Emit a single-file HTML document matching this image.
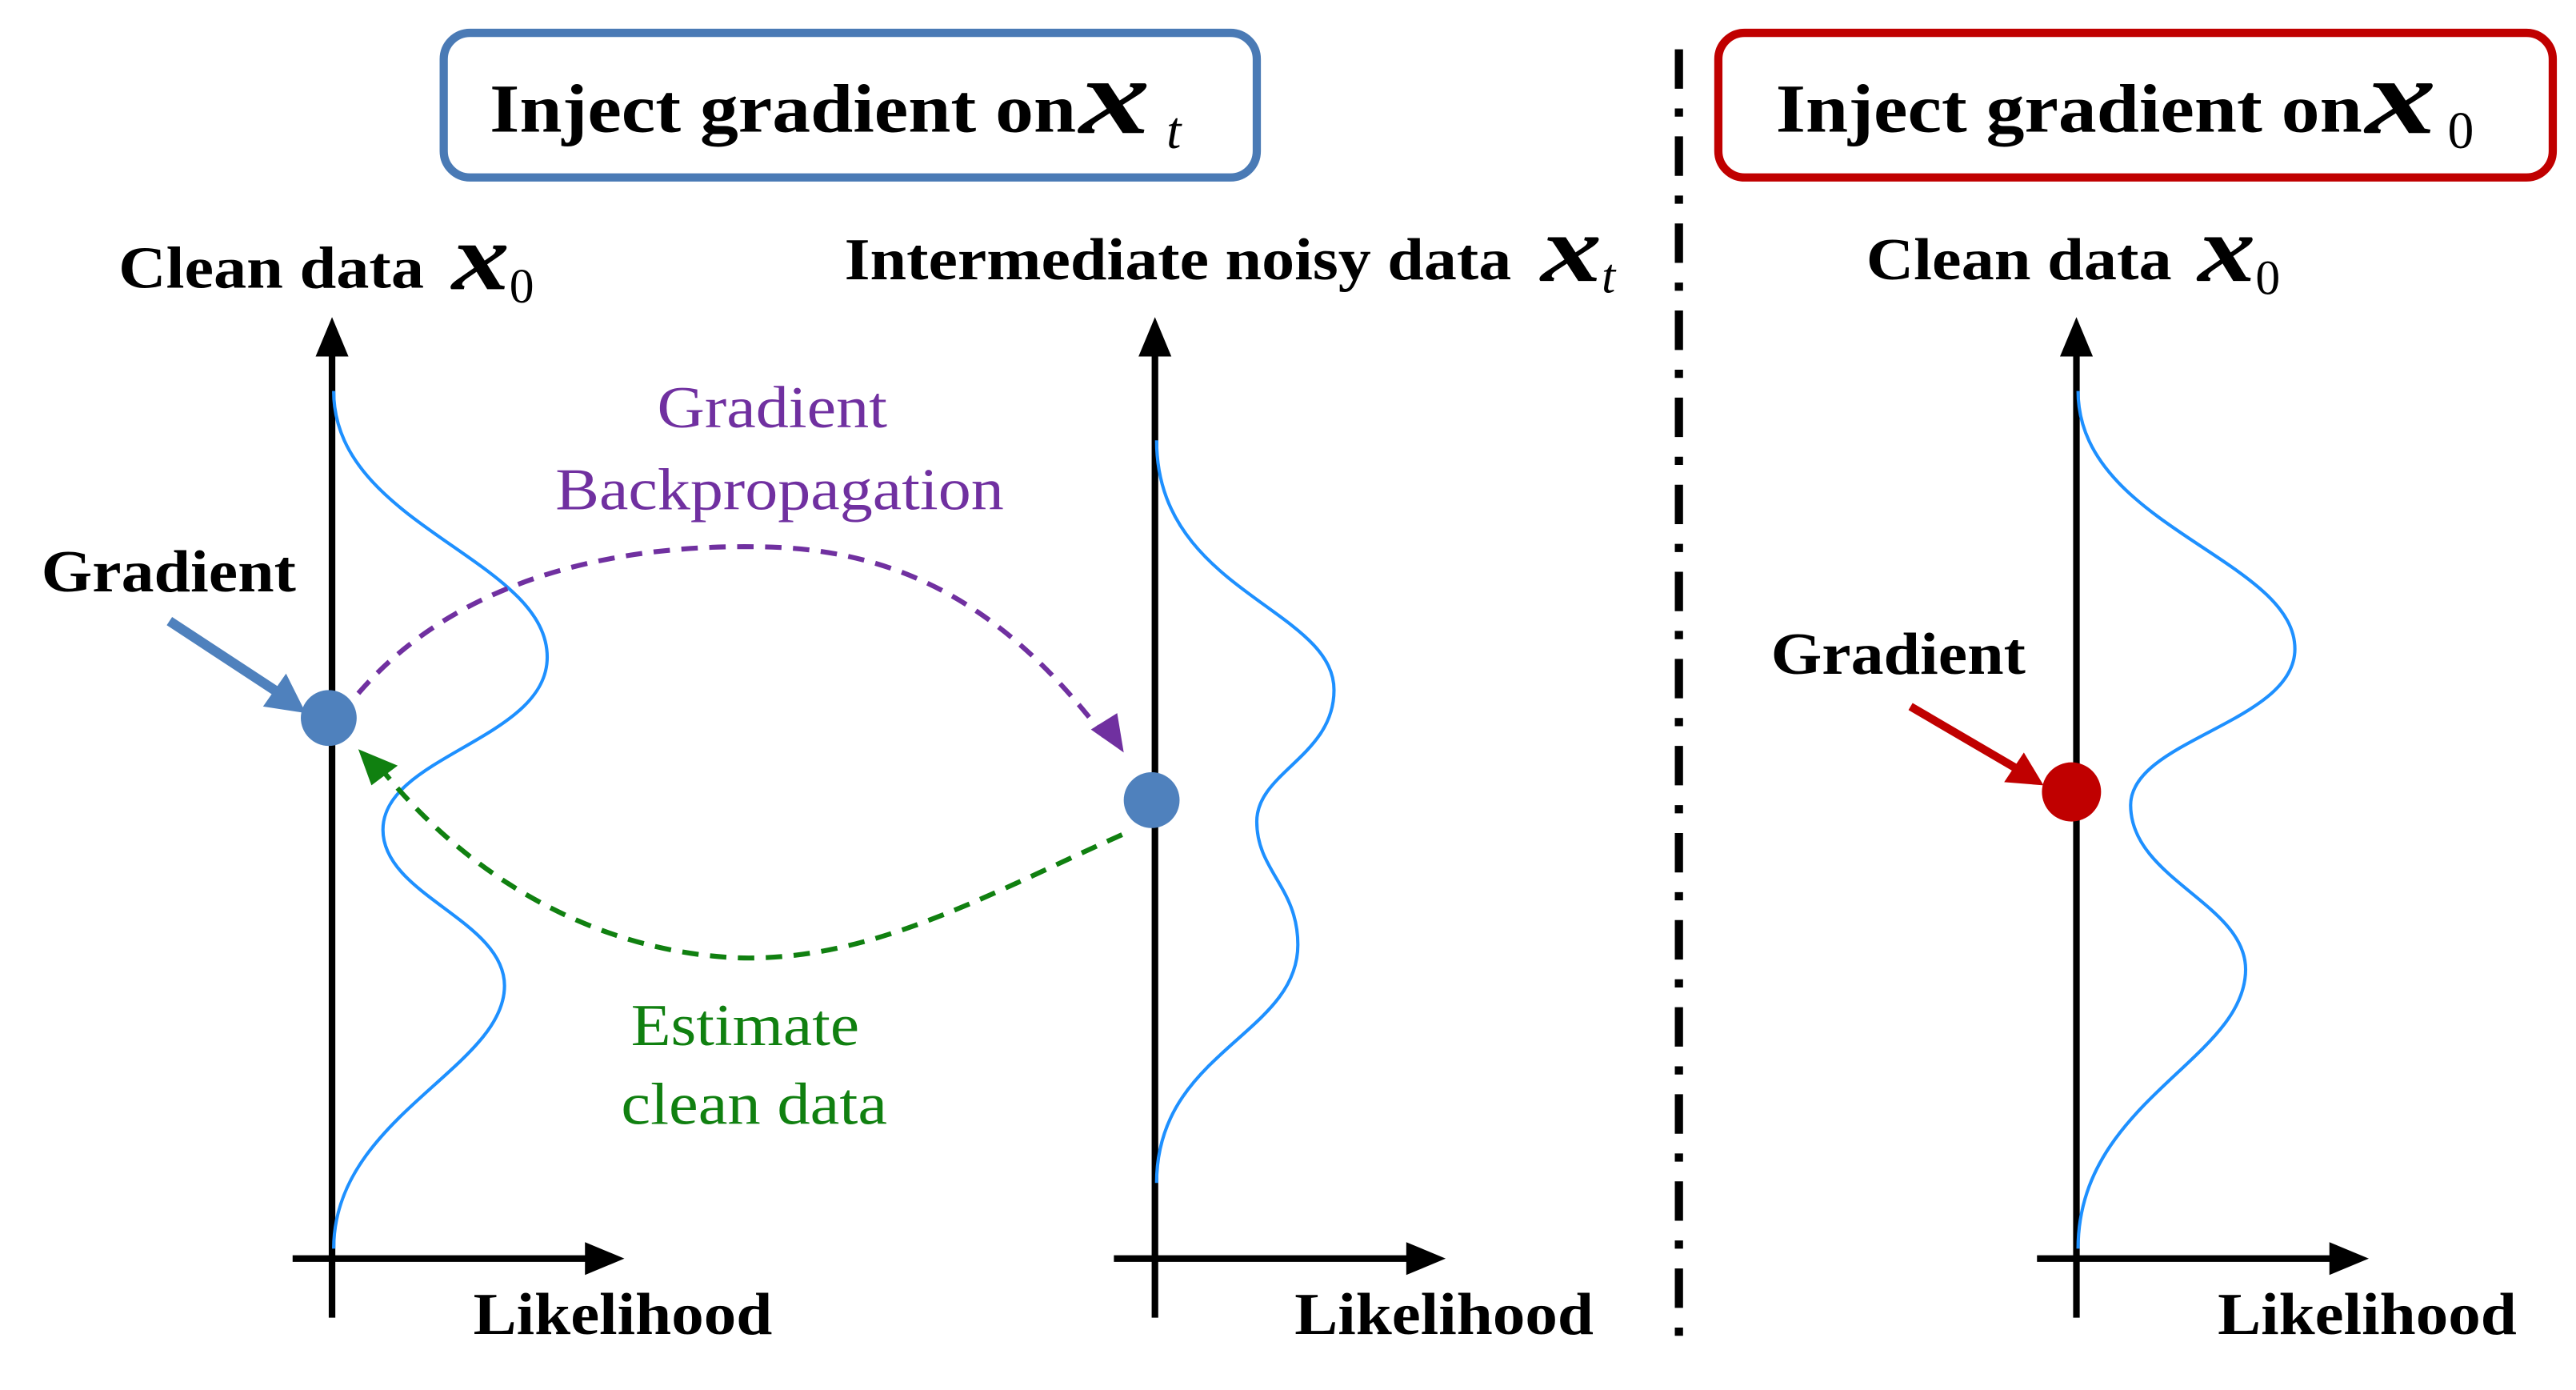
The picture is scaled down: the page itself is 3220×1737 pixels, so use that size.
<!DOCTYPE html>
<html><head><meta charset="utf-8"><style>html,body{margin:0;padding:0;background:#fff}svg{display:block}</style></head>
<body>
<svg width="3220" height="1737" viewBox="0 0 1568 846" xmlns="http://www.w3.org/2000/svg" font-family="Liberation Serif, serif">
<rect x="270" y="20" width="495" height="88" rx="16" fill="#fff" stroke="#4a7ab5" stroke-width="5"/>
<rect x="1046" y="20" width="508" height="88" rx="16" fill="#fff" stroke="#c00000" stroke-width="5"/>
<text x="298" y="80" font-size="42" font-weight="bold" textLength="357" lengthAdjust="spacingAndGlyphs">Inject gradient on</text>
<text x="657" y="81" font-size="66" font-weight="bold" font-style="italic" textLength="43" lengthAdjust="spacingAndGlyphs">x</text>
<text x="710" y="90" font-size="32" font-style="italic">t</text>
<text x="1081" y="80" font-size="42" font-weight="bold" textLength="357" lengthAdjust="spacingAndGlyphs">Inject gradient on</text>
<text x="1440" y="81" font-size="66" font-weight="bold" font-style="italic" textLength="43" lengthAdjust="spacingAndGlyphs">x</text>
<text x="1490" y="90" font-size="32">0</text>
<line x1="1022" y1="30" x2="1022" y2="822" stroke="#000" stroke-width="5" stroke-dasharray="24,12,5,12"/>
<text x="72" y="175" font-size="36" font-weight="bold" textLength="186" lengthAdjust="spacingAndGlyphs">Clean data</text>
<text x="275" y="176" font-size="58" font-weight="bold" font-style="italic" textLength="35" lengthAdjust="spacingAndGlyphs">x</text>
<text x="310" y="184" font-size="30">0</text>
<text x="514" y="170" font-size="36" font-weight="bold" textLength="406" lengthAdjust="spacingAndGlyphs">Intermediate noisy data</text>
<text x="938" y="171" font-size="58" font-weight="bold" font-style="italic" textLength="37" lengthAdjust="spacingAndGlyphs">x</text>
<text x="975" y="178" font-size="30" font-style="italic">t</text>
<text x="1136" y="170" font-size="36" font-weight="bold" textLength="186" lengthAdjust="spacingAndGlyphs">Clean data</text>
<text x="1338" y="171" font-size="58" font-weight="bold" font-style="italic" textLength="35" lengthAdjust="spacingAndGlyphs">x</text>
<text x="1373" y="179" font-size="30">0</text>
<g stroke="#000" stroke-width="4" fill="#000">
<line x1="202" y1="802" x2="202" y2="215"/><path d="M192,217 L202,193 L212,217 z" stroke="none"/>
<line x1="178" y1="766" x2="358" y2="766"/><path d="M356,756 L380,766 L356,776 z" stroke="none"/>
<line x1="703" y1="802" x2="703" y2="215"/><path d="M693,217 L703,193 L713,217 z" stroke="none"/>
<line x1="678" y1="766" x2="858" y2="766"/><path d="M856,756 L880,766 L856,776 z" stroke="none"/>
<line x1="1264" y1="802" x2="1264" y2="215"/><path d="M1254,217 L1264,193 L1274,217 z" stroke="none"/>
<line x1="1240" y1="766" x2="1420" y2="766"/><path d="M1418,756 L1442,766 L1418,776 z" stroke="none"/>
</g>
<text x="288" y="812" font-size="36" font-weight="bold" textLength="182" lengthAdjust="spacingAndGlyphs">Likelihood</text>
<text x="788" y="812" font-size="36" font-weight="bold" textLength="182" lengthAdjust="spacingAndGlyphs">Likelihood</text>
<text x="1350" y="812" font-size="36" font-weight="bold" textLength="182" lengthAdjust="spacingAndGlyphs">Likelihood</text>
<g fill="none" stroke="#1e90ff" stroke-width="2">
<path d="M203,238 C203,320 333,340 333,400 C333,450 233,460 233,505 C233,545 307,560 307,600 C307,650 203,680 203,760"/>
<path d="M704,268 C704,360 812,370 812,420 C812,460 765,470 765,500 C765,530 790,540 790,575 C790,630 704,640 704,720"/>
<path d="M1265,238 C1265,320 1397,340 1397,395 C1397,440 1297,450 1297,490 C1297,535 1367,550 1367,590 C1367,645 1265,670 1265,760"/>
</g>
<path d="M218,422 C280,350 380,330 470,333 C560,336 620,380 672,448" fill="none" stroke="#7030a0" stroke-width="3" stroke-dasharray="10,7"/>
<path d="M664,444 L684,458 L680,434 z" fill="#7030a0"/>
<path d="M683,508 C600,545 530,585 450,583 C370,580 290,540 232,468" fill="none" stroke="#108010" stroke-width="3" stroke-dasharray="10,7"/>
<path d="M218,456 L242,466 L226,478 z" fill="#108010"/>
<text x="400" y="260" font-size="36" fill="#7030a0" textLength="140" lengthAdjust="spacingAndGlyphs">Gradient</text>
<text x="338" y="310" font-size="36" fill="#7030a0" textLength="273" lengthAdjust="spacingAndGlyphs">Backpropagation</text>
<text x="384" y="636" font-size="36" fill="#108010" textLength="139" lengthAdjust="spacingAndGlyphs">Estimate</text>
<text x="378" y="684" font-size="36" fill="#108010" textLength="162" lengthAdjust="spacingAndGlyphs">clean data</text>
<text x="25" y="360" font-size="36" font-weight="bold" textLength="155" lengthAdjust="spacingAndGlyphs">Gradient</text>
<text x="1078" y="410" font-size="36" font-weight="bold" textLength="155" lengthAdjust="spacingAndGlyphs">Gradient</text>
<line x1="103" y1="378" x2="170" y2="422" stroke="#4f81bd" stroke-width="6"/>
<path d="M160,430 L186,434 L174,410 z" fill="#4f81bd"/>
<line x1="1163" y1="430" x2="1228" y2="468" stroke="#c00000" stroke-width="5"/>
<path d="M1220,476 L1244,478 L1232,458 z" fill="#c00000"/>
<circle cx="200" cy="437" r="17" fill="#4f81bd"/>
<circle cx="701" cy="487" r="17" fill="#4f81bd"/>
<circle cx="1261" cy="482" r="18" fill="#c00000"/>
</svg>
</body></html>
